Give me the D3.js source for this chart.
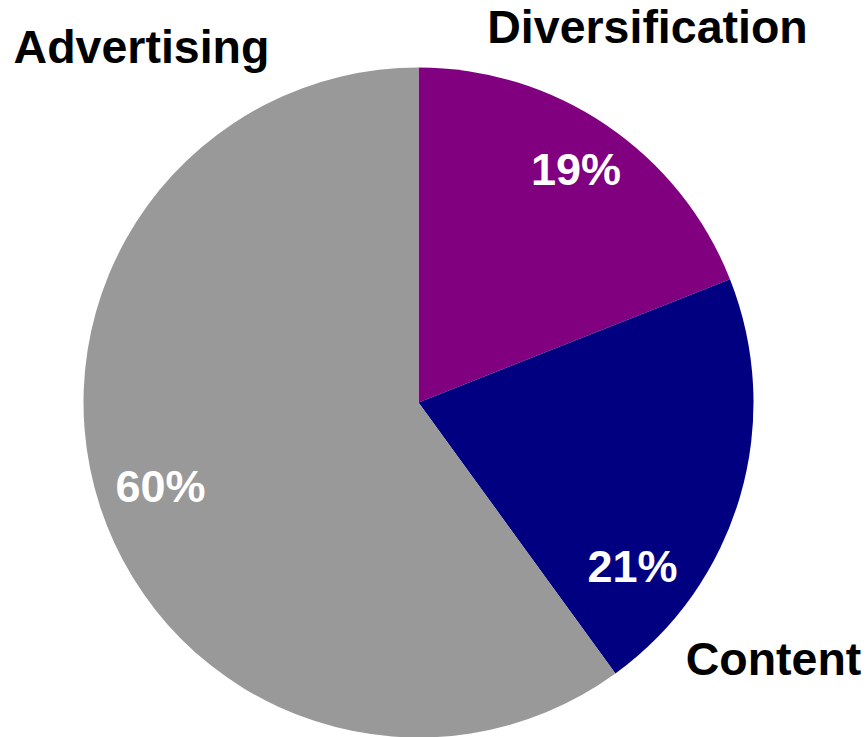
<!DOCTYPE html>
<html>
<head>
<meta charset="utf-8">
<script src="https://cdn.jsdelivr.net/npm/d3@7/dist/d3.min.js"></script>
<style>
html,body{margin:0;padding:0;background:#fff;}
svg{display:block;}
text{font-family:"Liberation Sans",Arial,sans-serif;font-weight:bold;}
</style>
</head>
<body>
<svg id="chart" width="867" height="737"></svg>
<script>
const categories = ["Diversification", "Content", "Advertising"];
const values = [19, 21, 60];
const colors = ["#800080", "#000080", "#999999"];

// layout (positions only)
const W = 867, H = 737;
const cx = 418.5, cy = 402.5, R = 335;
const nameLabelPos = [[647.5, 43], [773.5, 675], [141.5, 63]];
const pctLabelPos = [[576, 185], [632.5, 582], [160.5, 502]];

const svg = d3.select("#chart");
const g = svg.append("g").attr("transform", `translate(${cx},${cy})`);

const pie = d3.pie().sort(null).value(d => d);
const arcs = pie(values);
const arc = d3.arc().innerRadius(0).outerRadius(R);

g.selectAll("path").data(arcs).enter().append("path")
  .attr("d", arc)
  .attr("fill", (d, i) => colors[i]);

const total = d3.sum(values);
svg.selectAll("text.pct").data(arcs).enter().append("text")
  .attr("class", "pct")
  .attr("x", (d, i) => pctLabelPos[i][0])
  .attr("y", (d, i) => pctLabelPos[i][1])
  .attr("text-anchor", "middle")
  .attr("fill", "#fff")
  .attr("font-size", 45)
  .text(d => Math.round(d.value / total * 100) + "%");

svg.selectAll("text.name").data(categories).enter().append("text")
  .attr("class", "name")
  .attr("x", (d, i) => nameLabelPos[i][0])
  .attr("y", (d, i) => nameLabelPos[i][1])
  .attr("text-anchor", "middle")
  .attr("fill", "#000")
  .attr("font-size", 46.5)
  .text(d => d);
</script>
</body>
</html>
